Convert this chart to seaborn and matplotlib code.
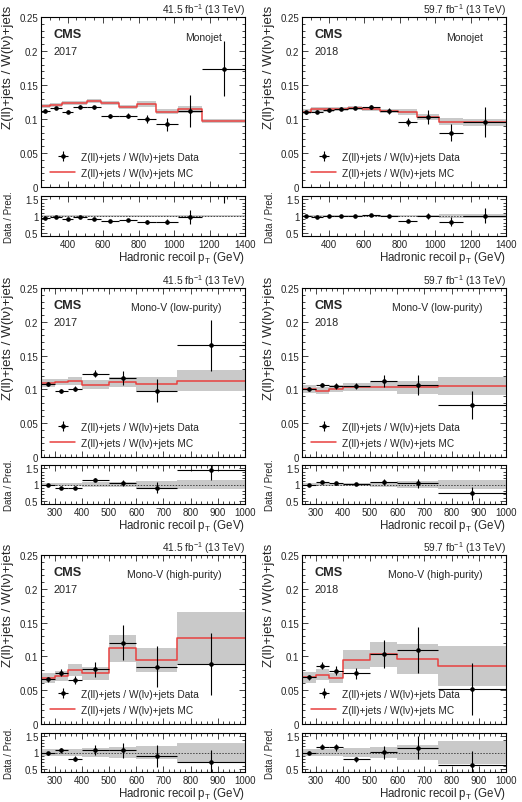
import matplotlib
matplotlib.use('Agg')
import matplotlib.pyplot as plt
from matplotlib.lines import Line2D
from matplotlib.ticker import MultipleLocator, FormatStrFormatter
import numpy as np
import seaborn as sns

# Binning (hadronic recoil, GeV)
edges_mj = [250, 300, 370, 430, 510, 590, 690, 790, 900, 1020, 1160, 1400]
edges_mv = [250, 300, 350, 400, 500, 600, 750, 1000]

# Monojet 2017
mj17_mc = [0.119, 0.121, 0.124, 0.123, 0.127, 0.124, 0.118, 0.122, 0.111, 0.114, 0.097]
mj17_band = [0.003, 0.003, 0.003, 0.003, 0.003, 0.003, 0.003, 0.004, 0.004, 0.005, 0.003]
mj17_data = [0.112, 0.116, 0.111, 0.118, 0.117, 0.105, 0.105, 0.100, 0.092, 0.112, 0.174]
mj17_err = [0.002, 0.002, 0.002, 0.002, 0.002, 0.003, 0.004, 0.006, 0.009, 0.024, 0.040]

# Monojet 2018
mj18_mc = [0.111, 0.114, 0.114, 0.115, 0.116, 0.115, 0.112, 0.110, 0.103, 0.096, 0.095]
mj18_band = [0.003, 0.003, 0.003, 0.003, 0.003, 0.003, 0.003, 0.004, 0.004, 0.005, 0.005]
mj18_data = [0.110, 0.111, 0.113, 0.115, 0.116, 0.117, 0.112, 0.095, 0.103, 0.080, 0.096]
mj18_err = [0.002, 0.002, 0.002, 0.002, 0.002, 0.003, 0.004, 0.006, 0.010, 0.012, 0.022]

# Mono-V low purity 2017
lp17_mc = [0.110, 0.111, 0.113, 0.107, 0.111, 0.108, 0.113]
lp17_band = [0.006, 0.005, 0.006, 0.007, 0.007, 0.010, 0.016]
lp17_data = [0.108, 0.098, 0.101, 0.123, 0.117, 0.098, 0.165]
lp17_err = [0.003, 0.003, 0.004, 0.005, 0.010, 0.017, 0.038]

# Mono-V low purity 2018
lp18_mc = [0.100, 0.098, 0.101, 0.103, 0.104, 0.103, 0.105]
lp18_band = [0.006, 0.005, 0.005, 0.006, 0.007, 0.010, 0.013]
lp18_data = [0.100, 0.107, 0.105, 0.105, 0.112, 0.107, 0.077]
lp18_err = [0.003, 0.003, 0.004, 0.004, 0.009, 0.015, 0.021]

# Mono-V high purity 2017
hp17_mc = [0.068, 0.071, 0.080, 0.075, 0.112, 0.095, 0.127]
hp17_band = [0.008, 0.007, 0.009, 0.010, 0.020, 0.018, 0.038]
hp17_data = [0.066, 0.076, 0.065, 0.081, 0.120, 0.085, 0.089]
hp17_err = [0.004, 0.005, 0.006, 0.011, 0.026, 0.031, 0.046]

# Mono-V high purity 2018
hp18_mc = [0.069, 0.073, 0.068, 0.095, 0.103, 0.096, 0.086]
hp18_band = [0.008, 0.008, 0.008, 0.014, 0.018, 0.022, 0.030]
hp18_data = [0.069, 0.086, 0.079, 0.075, 0.104, 0.110, 0.052]
hp18_err = [0.004, 0.005, 0.007, 0.008, 0.021, 0.034, 0.038]

lumis = {'2017': '41.5 fb$^{-1}$ (13 TeV)', '2018': '59.7 fb$^{-1}$ (13 TeV)'}
RED = '#e8403f'
GREY = '#c9c9c9'

sns.set_theme(style='ticks')
plt.rcParams['font.family'] = ['Liberation Sans', 'DejaVu Sans']
plt.rcParams['mathtext.default'] = 'regular'
plt.rcParams['xtick.direction'] = 'in'
plt.rcParams['ytick.direction'] = 'in'

fig = plt.figure(figsize=(5.22, 8.03), dpi=100)
W, H = 522, 803


def px_axes(x0, y0, x1, y1):
    return fig.add_axes([x0 / W, 1 - y1 / H, (x1 - x0) / W, (y1 - y0) / H])


def style_axis(ax, xmaj, xmin):
    ax.xaxis.set_major_locator(MultipleLocator(xmaj))
    ax.xaxis.set_minor_locator(MultipleLocator(xmin))
    ax.tick_params(which='both', top=True, right=True, labelsize=7, pad=2, width=0.6)
    ax.tick_params(which='major', length=4)
    ax.tick_params(which='minor', length=2)
    for s in ax.spines.values():
        s.set_linewidth(0.8)
        s.set_color('black')


def draw_panel(col, row, edges, mc, band, data, err, year, cat, xmaj, xmin):
    cols = [(41, 245), (302, 506)]
    mains = [(18, 188), (289, 458), (556, 725)]
    ratios = [(197, 237), (466, 505), (734, 773)]
    x0, x1 = cols[col]
    ax = px_axes(x0, mains[row][0], x1, mains[row][1])
    rax = px_axes(x0, ratios[row][0], x1, ratios[row][1])

    edges = np.array(edges, float)
    mc = np.array(mc)
    band = np.array(band)
    data = np.array(data)
    err = np.array(err)
    centers = 0.5 * (edges[1:] + edges[:-1])
    half = 0.5 * (edges[1:] - edges[:-1])
    mc_ext = np.append(mc, mc[-1])
    band_ext = np.append(band, band[-1])

    # main panel
    ax.fill_between(edges, mc_ext - band_ext, mc_ext + band_ext, step='post',
                    color=GREY, lw=0, zorder=1)
    sns.lineplot(x=edges, y=mc_ext, drawstyle='steps-post', color=RED, lw=1.1,
                 ax=ax, zorder=2, legend=False)
    eb = ax.errorbar(centers, data, xerr=half, yerr=err, fmt='o', ms=2.3,
                     color='black', elinewidth=0.8, capsize=0, zorder=3)
    ax.set_xlim(edges[0], edges[-1])
    ax.set_ylim(0, 0.25)
    style_axis(ax, xmaj, xmin)
    ax.yaxis.set_major_locator(MultipleLocator(0.05))
    ax.yaxis.set_minor_locator(MultipleLocator(0.01))
    ax.yaxis.set_major_formatter(FormatStrFormatter('%g'))
    ax.tick_params(axis='x', labelbottom=False)
    ax.set_xlabel('')
    ax.set_ylabel('Z(ll)+jets / W(l\u03bd)+jets', fontsize=9.6, loc='top')
    ax.yaxis.set_label_coords(-0.13, 1.075)

    ax.text(1.0, 1.022, lumis[year], transform=ax.transAxes, ha='right',
            va='baseline', fontsize=7.3)
    ax.text(0.06, 0.90, 'CMS', transform=ax.transAxes, fontsize=9.2,
            fontweight='bold', va='center')
    ax.text(0.06, 0.80, year, transform=ax.transAxes, fontsize=7.8, va='center')
    ax.text(0.885, 0.885, cat, transform=ax.transAxes, fontsize=7.5,
            ha='right', va='center')

    handles = [eb, Line2D([], [], color=RED, lw=1.1)]
    labels = ['Z(ll)+jets / W(l\u03bd)+jets Data', 'Z(ll)+jets / W(l\u03bd)+jets MC']
    ax.legend(handles, labels, loc='lower left', bbox_to_anchor=(0.0, 0.0),
              frameon=False, fontsize=7.3, handlelength=2.5, handletextpad=0.5,
              labelspacing=0.6)

    # ratio panel
    rel = band_ext / mc_ext
    rax.fill_between(edges, 1 - rel, 1 + rel, step='post', color=GREY, lw=0, zorder=1)
    rax.axhline(1, color='#444444', lw=0.7, ls=(0, (1.5, 1.5)), zorder=2)
    rax.errorbar(centers, data / mc, xerr=half, yerr=err / mc, fmt='o', ms=2.3,
                 color='black', elinewidth=0.8, capsize=0, zorder=3)
    rax.set_xlim(edges[0], edges[-1])
    rax.set_ylim(0.4, 1.6)
    style_axis(rax, xmaj, xmin)
    rax.yaxis.set_major_locator(MultipleLocator(0.5))
    rax.yaxis.set_minor_locator(MultipleLocator(0.1))
    rax.yaxis.set_major_formatter(FormatStrFormatter('%g'))
    rax.set_ylabel('Data / Pred.', fontsize=7)
    rax.yaxis.set_label_coords(-0.13, 0.5)
    rax.set_xlabel('Hadronic recoil p$_{T}$ (GeV)', fontsize=8.3, loc='right',
                   labelpad=0)


draw_panel(0, 0, edges_mj, mj17_mc, mj17_band, mj17_data, mj17_err, '2017', 'Monojet', 200, 50)
draw_panel(1, 0, edges_mj, mj18_mc, mj18_band, mj18_data, mj18_err, '2018', 'Monojet', 200, 50)
draw_panel(0, 1, edges_mv, lp17_mc, lp17_band, lp17_data, lp17_err, '2017', 'Mono-V (low-purity)', 100, 20)
draw_panel(1, 1, edges_mv, lp18_mc, lp18_band, lp18_data, lp18_err, '2018', 'Mono-V (low-purity)', 100, 20)
draw_panel(0, 2, edges_mv, hp17_mc, hp17_band, hp17_data, hp17_err, '2017', 'Mono-V (high-purity)', 100, 20)
draw_panel(1, 2, edges_mv, hp18_mc, hp18_band, hp18_data, hp18_err, '2018', 'Mono-V (high-purity)', 100, 20)

fig.savefig('out.png', dpi=100, facecolor='white')
